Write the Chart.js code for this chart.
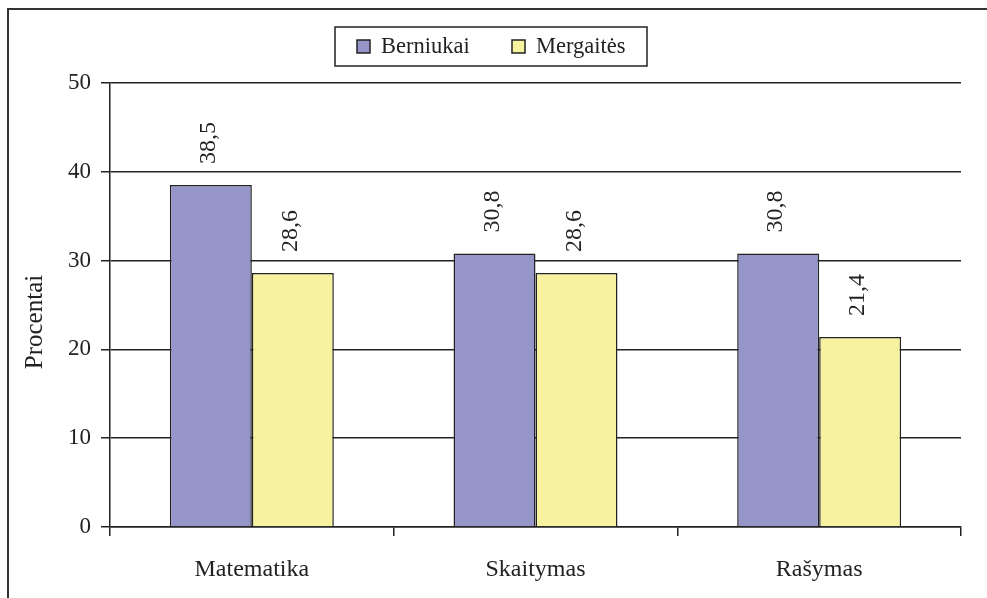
<!DOCTYPE html>
<html>
<head>
<meta charset="utf-8">
<script src="https://cdn.jsdelivr.net/npm/chart.js@4/dist/chart.umd.min.js"></script>
<style>
  html, body { margin: 0; padding: 0; background: #fff; }
  #wrap { width: 987px; height: 598px; position: relative; }
</style>
</head>
<body>
<div id="wrap"><canvas id="c" width="987" height="598"></canvas></div>
<script>
// values
const categories = ["Matematika", "Skaitymas", "Rašymas"];
const seriesNames = ["Berniukai", "Mergaitės"];
const boys = [38.5, 30.8, 30.8];
const girls = [28.6, 28.6, 21.4];
const yTicks = [0, 10, 20, 30, 40, 50];
const yTitle = "Procentai";

const FONT = "'Liberation Serif', 'Times New Roman', serif";
const INK = "#222";
const colors = ["#9595C9", "#F6F29F"];

// frame around the whole picture (top + left edges only, as in the scan)
const framePlugin = {
  id: "frame",
  afterDraw(chart) {
    const ctx = chart.ctx;
    ctx.save();
    ctx.strokeStyle = "#333";
    ctx.lineWidth = 2;
    ctx.beginPath();
    ctx.moveTo(8, 598);
    ctx.lineTo(8, 9);
    ctx.lineTo(987, 9);
    ctx.stroke();
    ctx.restore();
  },
};

// y title sits a bit below the middle of the axis in the original
const axisTitle = {
  id: "axisTitle",
  afterDraw(chart) {
    const ctx = chart.ctx;
    ctx.save();
    ctx.font = "25px " + FONT;
    ctx.fillStyle = INK;
    ctx.textAlign = "center";
    ctx.textBaseline = "alphabetic";
    ctx.translate(42, 322);
    ctx.rotate(-Math.PI / 2);
    ctx.fillText(yTitle, 0, 0);
    ctx.restore();
  },
};

// boxed legend at the top
const boxLegend = {
  id: "boxLegend",
  afterDraw(chart) {
    const ctx = chart.ctx;
    ctx.save();
    ctx.font = "22.5px " + FONT;
    ctx.textBaseline = "middle";
    const sq = 13;
    const boxL = 335, boxR = 647, boxT = 27, boxB = 66;
    const cy = (boxT + boxB) / 2;
    const squares = [357, 512];
    ctx.strokeStyle = INK;
    ctx.lineWidth = 1.5;
    ctx.strokeRect(boxL, boxT, boxR - boxL, boxB - boxT);
    chart.data.datasets.forEach((ds, i) => {
      const x = squares[i];
      ctx.fillStyle = ds.backgroundColor;
      ctx.fillRect(x, cy - sq / 2, sq, sq);
      ctx.strokeRect(x, cy - sq / 2, sq, sq);
      ctx.fillStyle = INK;
      ctx.fillText(ds.label, x + sq + 11, cy + 1);
    });
    ctx.restore();
  },
};

// vertical value labels above each bar
const valueLabels = {
  id: "valueLabels",
  afterDatasetsDraw(chart) {
    const ctx = chart.ctx;
    ctx.save();
    ctx.font = "24px " + FONT;
    ctx.fillStyle = INK;
    ctx.textAlign = "left";
    ctx.textBaseline = "middle";
    chart.data.datasets.forEach((ds, di) => {
      chart.getDatasetMeta(di).data.forEach((bar, i) => {
        const txt = ds.data[i].toFixed(1).replace(".", ",");
        ctx.save();
        ctx.translate(bar.x - 2, bar.y - 21);
        ctx.rotate(-Math.PI / 2);
        ctx.fillText(txt, 0, 0);
        ctx.restore();
      });
    });
    ctx.restore();
  },
};

new Chart(document.getElementById("c"), {
  type: "bar",
  data: {
    labels: categories,
    datasets: [
      { label: seriesNames[0], data: boys, backgroundColor: colors[0] },
      { label: seriesNames[1], data: girls, backgroundColor: colors[1] },
    ],
  },
  options: {
    responsive: false,
    animation: false,
    layout: { padding: { top: 83, right: 26, left: 0, bottom: 0 } },
    datasets: {
      bar: {
        borderColor: INK,
        borderWidth: 1.5,
        categoryPercentage: 0.578,
        barPercentage: 1,
      },
    },
    plugins: {
      legend: { display: false },
      tooltip: { enabled: false },
    },
    scales: {
      x: {
        grid: {
          offset: true,
          drawOnChartArea: false,
          drawTicks: true,
          tickLength: 9,
          color: INK,
          lineWidth: 1.5,
        },
        border: { color: INK, width: 1.5 },
        ticks: { color: INK, font: { family: FONT, size: 24 }, padding: 19 },
        afterFit(scale) { scale.height = 71; },
      },
      y: {
        min: 0,
        max: 50,
        afterBuildTicks(scale) { scale.ticks = yTicks.map((v) => ({ value: v })); },
        grid: { color: INK, lineWidth: 1.5, tickLength: 9 },
        border: { color: INK, width: 1.5 },
        ticks: { color: INK, font: { family: FONT, size: 23 }, padding: 10 },
        afterFit(scale) { scale.width = 110; },
      },
    },
  },
  plugins: [framePlugin, axisTitle, boxLegend, valueLabels],
});
</script>
</body>
</html>
